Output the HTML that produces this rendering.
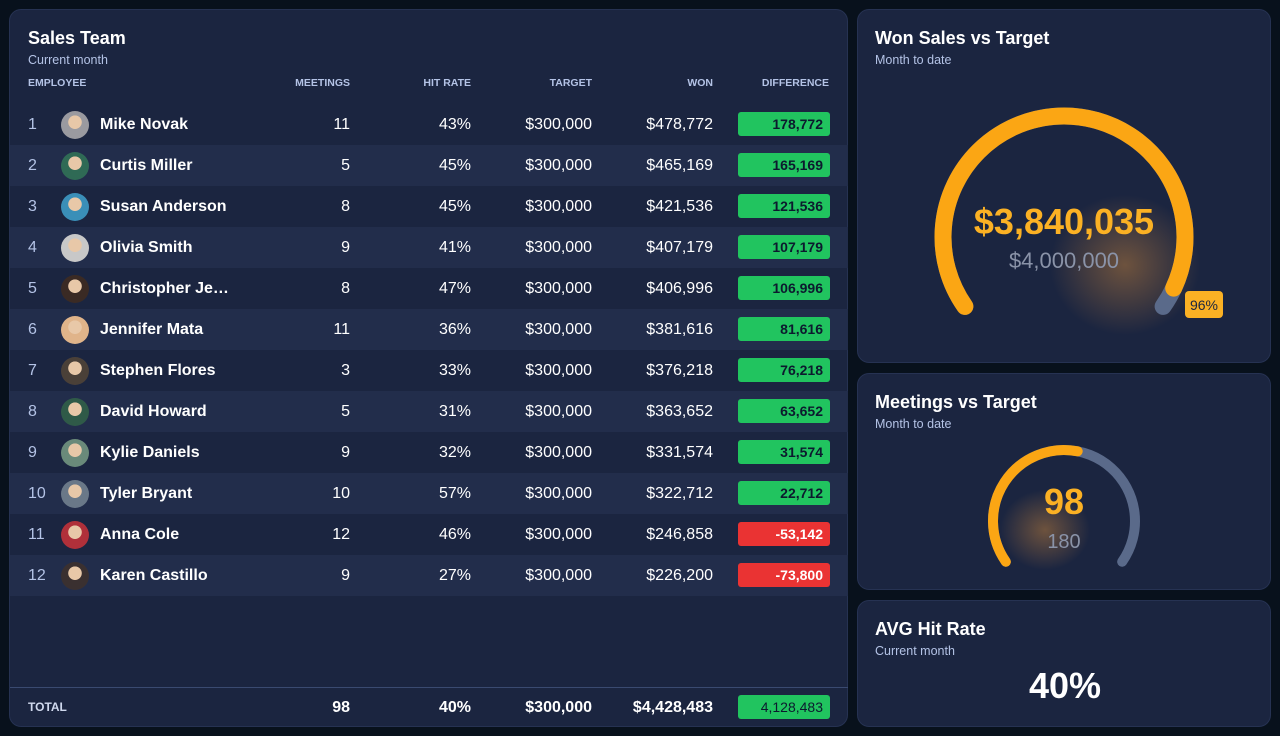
<!DOCTYPE html>
<html><head><meta charset="utf-8"><style>
*{margin:0;padding:0;box-sizing:border-box}
body{width:1280px;height:736px;background:#08111c;font-family:"Liberation Sans",sans-serif;color:#fff;position:relative;overflow:hidden}
.card{position:absolute;background:#1b2540;border-radius:12px;border:1px solid #263252}
.t{position:absolute;font-size:18px;font-weight:bold}
.s{position:absolute;font-size:12.5px;color:#b4c3e6}
.h{position:absolute;top:76px;font-size:10.5px;color:#b4c3e6;font-weight:bold}
.row{position:absolute;left:0;width:838px;height:41px}
.row div{position:absolute;top:0;line-height:41px;font-size:16px}
.n{left:18px;color:#b4c3e6;}
.av{top:7px!important;left:51px;width:28px;height:28px;border-radius:50%}
.nm{left:90px;font-weight:bold}
.r{text-align:right}
.b{top:8px!important;left:728px;width:92px;height:24px;line-height:24px!important;border-radius:3px;text-align:right;padding-right:7px;font-size:14px!important;font-weight:bold}
.g{background:#21c45f;color:#0c1a2e}
.rd{background:#ea3333;color:#fff}
</style></head><body>
<div class="card" style="left:9px;top:9px;width:839px;height:718px">
<div class="t" style="left:18px;top:18px">Sales Team</div>
<div class="s" style="left:18px;top:43px">Current month</div>
<div class="h" style="left:18px;top:67px">EMPLOYEE</div>
<div class="h" style="left:240px;width:100px;text-align:right;top:67px">MEETINGS</div>
<div class="h" style="left:361px;width:100px;text-align:right;top:67px">HIT RATE</div>
<div class="h" style="left:482px;width:100px;text-align:right;top:67px">TARGET</div>
<div class="h" style="left:603px;width:100px;text-align:right;top:67px">WON</div>
<div class="h" style="left:719px;width:100px;text-align:right;top:67px">DIFFERENCE</div>
<div id="rows"></div>
<div style="position:absolute;left:0;top:677px;width:838px;height:1px;background:#3a4a70"></div>
<div class="row" style="top:677px">
<div style="left:18px;font-size:12px;font-weight:bold;color:#d0d9ee;">TOTAL</div>
<div class="r" style="left:240px;width:100px;font-weight:bold">98</div>
<div class="r" style="left:361px;width:100px;font-weight:bold">40%</div>
<div class="r" style="left:482px;width:100px;font-weight:bold">$300,000</div>
<div class="r" style="left:583px;width:120px;font-weight:bold">$4,428,483</div>
<div class="b g" style="font-weight:normal">4,128,483</div>
</div>
</div>

<div class="card" style="left:857px;top:9px;width:414px;height:354px">
<div class="t" style="left:17px;top:18px">Won Sales vs Target</div>
<div class="s" style="left:17px;top:43px">Month to date</div>
</div>
<div class="card" style="left:857px;top:373px;width:414px;height:217px">
<div class="t" style="left:17px;top:18px">Meetings vs Target</div>
<div class="s" style="left:17px;top:43px">Month to date</div>
</div>
<div class="card" style="left:857px;top:600px;width:414px;height:127px">
<div class="t" style="left:17px;top:18px">AVG Hit Rate</div>
<div class="s" style="left:17px;top:43px">Current month</div>
<div style="position:absolute;left:0;width:414px;text-align:center;top:64px;font-size:36px;font-weight:bold">40%</div>
</div>

<svg style="position:absolute;left:0;top:0" width="1280" height="736">
<defs><radialGradient id="gl" cx="0.5" cy="0.5" r="0.5"><stop offset="0" stop-color="#d28a3c" stop-opacity="0.45"/><stop offset="1" stop-color="#d28a3c" stop-opacity="0"/></radialGradient></defs>
<ellipse cx="1125" cy="265" rx="75" ry="70" fill="url(#gl)"/>
<ellipse cx="1045" cy="530" rx="45" ry="40" fill="url(#gl)"/>
<g id="g1"></g>
<text x="1064" y="234" text-anchor="middle" font-size="36" font-weight="bold" fill="#fbb124" font-family="Liberation Sans">$3,840,035</text>
<text x="1064" y="268" text-anchor="middle" font-size="22" fill="#8a93a8" font-family="Liberation Sans">$4,000,000</text>
<rect x="1185" y="291" width="38" height="27" rx="4" fill="#fbb124"/>
<text x="1204" y="310" text-anchor="middle" font-size="14" fill="#1b2540" font-family="Liberation Sans">96%</text>
<text x="1064" y="514" text-anchor="middle" font-size="36" font-weight="bold" fill="#fbb124" font-family="Liberation Sans">98</text>
<text x="1064" y="548" text-anchor="middle" font-size="20" fill="#8a93a8" font-family="Liberation Sans">180</text>
</svg>
<script>
const d=[["Mike Novak",11,"43%","$478,772","178,772"],["Curtis Miller",5,"45%","$465,169","165,169"],["Susan Anderson",8,"45%","$421,536","121,536"],["Olivia Smith",9,"41%","$407,179","107,179"],["Christopher Je…",8,"47%","$406,996","106,996"],["Jennifer Mata",11,"36%","$381,616","81,616"],["Stephen Flores",3,"33%","$376,218","76,218"],["David Howard",5,"31%","$363,652","63,652"],["Kylie Daniels",9,"32%","$331,574","31,574"],["Tyler Bryant",10,"57%","$322,712","22,712"],["Anna Cole",12,"46%","$246,858","-53,142"],["Karen Castillo",9,"27%","$226,200","-73,800"]];
const av=["#9a9aa0","#2f6a55","#3a8fb8","#c8c8c8","#3a2a24","#e0b48a","#4a4038","#2f5a48","#6a8a7a","#6a7888","#b0303a","#3a3030"];
let h="";d.forEach((r,i)=>{h+=`<div class="row" style="top:${94+41*i}px;background:${i%2?'#222d4b':'transparent'}"><div class="n">${i+1}</div><div class="av" style="background:radial-gradient(circle at 50% 40%,#e8c8a8 0 30%,${av[i]} 32%)"></div><div class="nm">${r[0]}</div><div class="r" style="left:240px;width:100px">${r[1]}</div><div class="r" style="left:361px;width:100px">${r[2]}</div><div class="r" style="left:482px;width:100px">$300,000</div><div class="r" style="left:583px;width:120px">${r[3]}</div><div class="b ${r[4][0]=='-'?'rd':'g'}">${r[4]}</div></div>`});
document.getElementById("rows").innerHTML=h;
function arc(cx,cy,r,a0,a1){const p=a=>[cx+r*Math.cos(a*Math.PI/180),cy+r*Math.sin(a*Math.PI/180)];const s=p(a0),e=p(a1);const l=(a1-a0)>180?1:0;return `M${s[0]} ${s[1]} A${r} ${r} 0 ${l} 1 ${e[0]} ${e[1]}`}
let g="";
g+=`<path d="${arc(1064,237,121,145,395)}" stroke="#5a6a8a" stroke-width="17" fill="none" stroke-linecap="round"/>`;
g+=`<path d="${arc(1064,237,121,145,145+240)}" stroke="#fba614" stroke-width="17" fill="none" stroke-linecap="round"/>`;
g+=`<path d="${arc(1064,521,71,145,395)}" stroke="#5a6a8a" stroke-width="10" fill="none" stroke-linecap="round"/>`;
g+=`<path d="${arc(1064,521,71,145,145+250*98/180)}" stroke="#fba614" stroke-width="10" fill="none" stroke-linecap="round"/>`;
document.getElementById("g1").innerHTML=g;
</script>
</body></html>
